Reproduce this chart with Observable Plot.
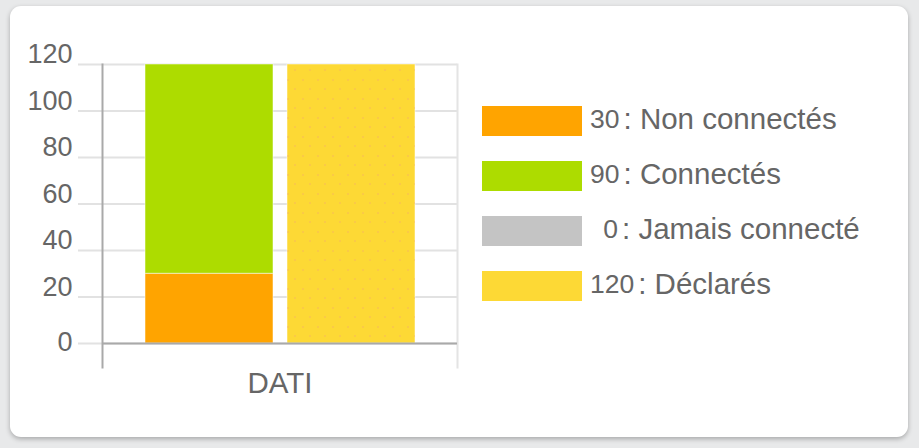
<!DOCTYPE html>
<html>
<head>
<meta charset="utf-8">
<script src="https://cdn.jsdelivr.net/npm/d3@7"></script>
<script src="https://cdn.jsdelivr.net/npm/@observablehq/plot@0.6"></script>
<style>
  html, body { margin: 0; padding: 0; }
  body {
    width: 919px; height: 448px; position: relative; overflow: hidden;
    background: #e8e9ea;
    font-family: "Liberation Sans", Arial, sans-serif;
  }
  #card {
    position: absolute; left: 10px; top: 6px; width: 898px; height: 431px;
    background: #fff; border-radius: 11px;
    box-shadow: 0 2px 5px rgba(0,0,0,0.28);
  }
  #chart { position: absolute; left: 0; top: 0; }
  #legend { position: absolute; left: 482px; top: 106px; }
  .row { display: flex; align-items: center; height: 30px; margin-bottom: 25px; color: #666; }
  .sw { width: 100px; height: 30px; flex: none; }
  .num { min-width: 28px; margin-left: 8px; text-align: right; font-size: 26.5px; transform: translateY(-2px); }
  .lab { font-size: 29.5px; margin-left: 4px; white-space: nowrap; transform: translateY(-2px); }
</style>
</head>
<body>
<svg width="0" height="0" style="position:absolute">
  <defs>
    <pattern id="dotsY" width="15" height="19" patternUnits="userSpaceOnUse">
      <circle cx="3" cy="4" r="0.8" fill="#f4a86a" fill-opacity="0.7"></circle>
      <circle cx="10" cy="13" r="0.8" fill="#f4a86a" fill-opacity="0.7"></circle>
    </pattern>
  </defs>
</svg>
<div id="card"></div>
<div id="chart"></div>
<div id="legend"></div>
<script>
const categories = ["DATI"];
const series = ["Non connectés", "Connectés", "Jamais connecté", "Déclarés"];
const values = [30, 90, 0, 120];
const seriesGroup = ["Connexion", "Connexion", "Connexion", "Déclarés"];
const groups = ["Connexion", "Déclarés"];
const colors = ["#ffa400", "#addc00", "#c4c4c4", "#fdd935"];
const yTicks = [0, 20, 40, 60, 80, 100, 120];

const rows = series.map((s, i) => ({
  category: categories[0], series: s, value: values[i], group: seriesGroup[i]
}));

const txt = "#666";
const plot = Plot.plot({
  width: 470,
  height: 400,
  marginLeft: 102,
  marginRight: 13,
  marginTop: 64,
  marginBottom: 57,
  style: { fontFamily: "'Liberation Sans', Arial, sans-serif", background: "transparent", overflow: "visible" },
  fx: { domain: categories, padding: 0 },
  x: { domain: groups, paddingInner: 0.1, paddingOuter: 0.3, axis: null },
  y: { domain: [0, 120], axis: null },
  color: { domain: series, range: colors },
  marks: [
    Plot.gridY(yTicks, { stroke: "#e2e2e2", strokeOpacity: 1, strokeWidth: 2, insetLeft: -24 }),
    Plot.barY(rows, { fx: "category", x: "group", y: "value", fill: "series", stroke: "white", strokeOpacity: 0.5, strokeWidth: 1 }),
    Plot.barY(rows.filter(d => d.series === "Déclarés"), { fx: "category", x: "group", y: "value", fill: "url(#dotsY)" }),
    Plot.frame({ anchor: "right", stroke: "#e4e4e4", strokeWidth: 2, insetBottom: -24 }),
    Plot.ruleY([0], { stroke: "#a9a9a9", strokeWidth: 2 }),
    Plot.frame({ anchor: "left", stroke: "#a9a9a9", strokeWidth: 2, insetBottom: -24 }),
    Plot.axisY(yTicks.slice(1), { tickSize: 0, tickPadding: 30, dy: -10, fontSize: 27, fill: txt, label: null }),
    Plot.axisY([0], { tickSize: 0, tickPadding: 30, dy: -1, fontSize: 27, fill: txt, label: null }),
    Plot.axisFx({ anchor: "bottom", tickSize: 0, tickPadding: 29, fontSize: 29.5, fill: txt, label: null })
  ]
});
document.getElementById("chart").appendChild(plot);

const legend = document.getElementById("legend");
series.forEach((s, i) => {
  const row = document.createElement("div");
  row.className = "row";
  const sw = document.createElement("div");
  sw.className = "sw";
  sw.style.background = colors[i];
  const num = document.createElement("span");
  num.className = "num";
  num.textContent = String(values[i]);
  const lab = document.createElement("span");
  lab.className = "lab";
  lab.textContent = ": " + s;
  row.append(sw, num, lab);
  legend.appendChild(row);
});
</script>
</body>
</html>
